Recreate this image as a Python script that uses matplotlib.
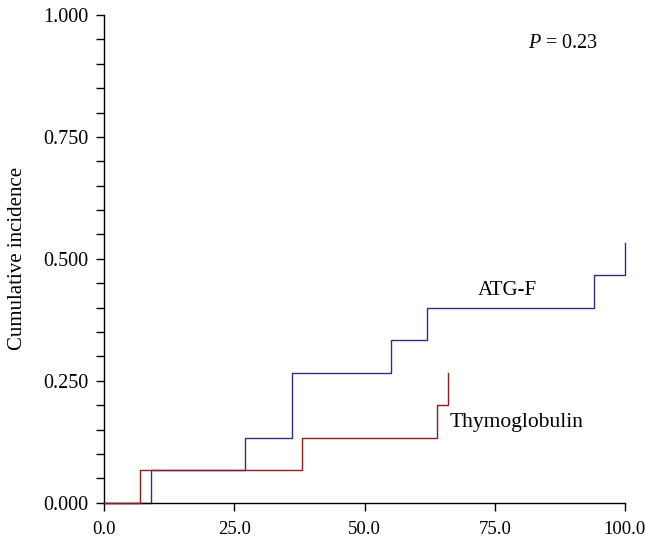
import matplotlib
matplotlib.use("Agg")
import matplotlib.pyplot as plt
from matplotlib.ticker import MultipleLocator, FormatStrFormatter

# Data
atg_times = [0, 9, 27, 36, 55, 62, 94, 100]
atg_values = [0.0, 0.0667, 0.1333, 0.2667, 0.3333, 0.4, 0.4667, 0.5333]
thymo_times = [0, 7, 38, 64, 66]
thymo_values = [0.0, 0.0667, 0.1333, 0.2, 0.2667]
x_ticks = [0, 25, 50, 75, 100]
y_ticks = [0.0, 0.25, 0.5, 0.75, 1.0]

plt.rcParams['font.family'] = ['Liberation Serif', 'DejaVu Serif']
plt.rcParams['mathtext.fontset'] = 'custom'
plt.rcParams['mathtext.rm'] = 'Liberation Serif'
plt.rcParams['mathtext.it'] = 'Liberation Serif:italic'

fig = plt.figure(figsize=(6.46, 5.39), dpi=100)
ax = fig.add_axes([0.161, 0.0672, 0.8065, 0.9050])

blue = '#2e3181'
red = '#8e1d1f'
ax.step(atg_times, atg_values, where='post', color=blue, lw=1.0, clip_on=False, zorder=2)
ax.step(thymo_times, thymo_values, where='post', color=red, lw=1.0, clip_on=False, zorder=3)

ax.set_xlim(0, 100)
ax.set_ylim(0, 1.0)
ax.set_xticks(x_ticks)
ax.set_yticks(y_ticks)
ax.yaxis.set_minor_locator(MultipleLocator(0.05))
ax.xaxis.set_major_formatter(FormatStrFormatter('%.1f'))
ax.yaxis.set_major_formatter(FormatStrFormatter('%.3f'))

for s in ['top', 'right']:
    ax.spines[s].set_visible(False)
for s in ['left', 'bottom']:
    ax.spines[s].set_linewidth(1.0)
    ax.spines[s].set_color('black')

ax.tick_params(axis='both', which='major', direction='out', length=6, width=1.0,
               labelsize=14.5, colors='black', pad=5)
ax.tick_params(axis='x', which='major', pad=7, labelsize=13.5)
ax.tick_params(axis='y', which='minor', direction='out', length=6, width=1.0)

ax.set_ylabel('Cumulative incidence', fontsize=15)
ax.yaxis.set_label_coords(-0.148, 0.5)

ax.text(77.4, 0.435, 'ATG-F', fontsize=15, ha='center', va='center')
ax.text(66.3, 0.165, 'Thymoglobulin', fontsize=15.5, ha='left', va='center')
ax.text(88.1, 0.942, r'$P$ = 0.23', fontsize=14.5, ha='center', va='center')

fig.savefig('out.png', dpi=100)
